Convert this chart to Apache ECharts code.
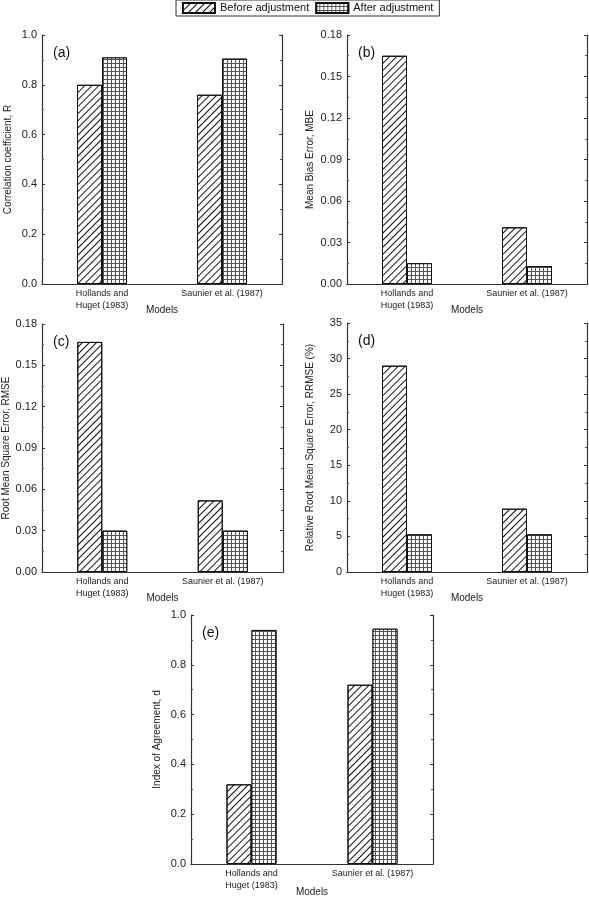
<!DOCTYPE html>
<html>
<head>
<meta charset="utf-8">
<script src="https://cdn.jsdelivr.net/npm/echarts@6/dist/echarts.min.js"></script>
<style>
html, body { margin: 0; padding: 0; background: #fff; }
#chart { width: 589px; height: 900px; }
</style>
</head>
<body>
<div id="chart"></div>
<script>
var models = ['Hollands and\nHuget (1983)', 'Saunier et al. (1987)'];
var seriesNames = ['Before adjustment', 'After adjustment'];

var corrBefore = [0.80, 0.76];
var corrAfter = [0.91, 0.905];
var mbeBefore = [0.165, 0.041];
var mbeAfter = [0.015, 0.013];
var rmseBefore = [0.167, 0.052];
var rmseAfter = [0.030, 0.030];
var rrmseBefore = [29.0, 8.9];
var rrmseAfter = [5.3, 5.3];
var dBefore = [0.32, 0.72];
var dAfter = [0.94, 0.945];

var panels = [
	{ tag: '(a)', yname: 'Correlation coefficient, R', max: 1, interval: 0.2, digits: 1, before: corrBefore, after: corrAfter, left: 42, top: 35, width: 240, height: 249, gap: 29 },
	{ tag: '(b)', yname: 'Mean Bias Error, MBE', max: 0.18, interval: 0.03, digits: 2, before: mbeBefore, after: mbeAfter, left: 347, top: 35, width: 240, height: 249, gap: 32 },
	{ tag: '(c)', yname: 'Root Mean Square Error, RMSE', max: 0.18, interval: 0.03, digits: 2, before: rmseBefore, after: rmseAfter, left: 42, top: 324, width: 241, height: 248, gap: 31 },
	{ tag: '(d)', yname: 'Relative Root Mean Square Error, RRMSE (%)', max: 35, interval: 5, digits: 0, before: rrmseBefore, after: rrmseAfter, left: 347, top: 323, width: 240, height: 249, gap: 32 },
	{ tag: '(e)', yname: 'Index of Agreement, d', max: 1, interval: 0.2, digits: 1, before: dBefore, after: dAfter, left: 191, top: 615, width: 242, height: 249, gap: 29 }
];

var font = 'Liberation Sans, Arial, sans-serif';

var hatch = {
	symbol: 'rect',
	symbolSize: 1,
	color: '#111',
	dashArrayX: [1, 0],
	dashArrayY: [1, 3.5],
	rotation: -Math.PI / 4
};
var crossHatch = {
	symbol: 'rect',
	symbolSize: 1,
	color: '#fff',
	dashArrayX: [2.5, 1],
	dashArrayY: [2.5, 1]
};

var option = {
	backgroundColor: '#fff',
	animation: false,
	textStyle: { fontFamily: font, color: '#222' },
	legend: {
		data: seriesNames,
		left: 176,
		top: 0,
		icon: 'rect',
		padding: [2, 6, 2, 6],
		itemGap: 6,
		itemWidth: 32,
		itemHeight: 10,
		borderColor: '#333',
		borderWidth: 1,
		borderRadius: 0,
		textStyle: { fontSize: 11, color: '#111', fontFamily: font }
	},
	title: [],
	grid: [],
	xAxis: [],
	yAxis: [],
	series: []
};

var n = panels.length;
for (var i = 0; i < n; i++) {
	var p = panels[i];
	option.grid.push({ left: p.left, top: p.top, width: p.width, height: p.height, containLabel: false });
	option.title.push({
		text: p.tag,
		left: p.left + 6,
		top: p.top + 6,
		textStyle: { fontSize: 14, fontWeight: 'normal', color: '#111', fontFamily: font }
	});
}
// bottom x axes
for (var i = 0; i < n; i++) {
	option.xAxis.push({
		type: 'category',
		gridIndex: i,
		data: models,
		name: 'Models',
		nameLocation: 'middle',
		nameGap: i === 4 ? 23 : 21,
		nameMoveOverlap: false,
		nameTextStyle: { fontSize: 10, color: '#222' },
		axisLine: { lineStyle: { color: '#333', width: 1.2 } },
		axisTick: { inside: true, length: 3, lineStyle: { color: '#333' } },
		axisLabel: { fontSize: 9, lineHeight: 12, color: '#222', margin: 4, interval: 0 }
	});
}
// top x axes (ticks only)
for (var i = 0; i < n; i++) {
	option.xAxis.push({
		type: 'category',
		gridIndex: i,
		position: 'top',
		data: models,
		axisLine: { lineStyle: { color: '#333', width: 1.2 } },
		axisTick: { inside: true, length: 3, lineStyle: { color: '#333' } },
		axisLabel: { show: false }
	});
}
// left y axes
for (var i = 0; i < n; i++) {
	var p = panels[i];
	option.yAxis.push({
		type: 'value',
		gridIndex: i,
		min: 0,
		max: p.max,
		interval: p.interval,
		name: p.yname,
		nameLocation: 'middle',
		nameGap: p.gap,
		nameMoveOverlap: false,
		nameTextStyle: { fontSize: 10, color: '#222' },
		axisLine: { show: true, lineStyle: { color: '#333', width: 1.2 } },
		axisTick: { show: true, inside: true, length: 3, lineStyle: { color: '#333' } },
		minorTick: { show: true, splitNumber: 2, length: 2, lineStyle: { color: '#555' } },
		splitLine: { show: false },
		axisLabel: {
			fontSize: 11, color: '#222', margin: 5,
			formatter: (function (d) { return function (v) { return v.toFixed(d); }; })(p.digits)
		}
	});
}
// right y axes (ticks only)
for (var i = 0; i < n; i++) {
	var p = panels[i];
	option.yAxis.push({
		type: 'value',
		gridIndex: i,
		position: 'right',
		min: 0,
		max: p.max,
		interval: p.interval,
		axisLine: { show: true, lineStyle: { color: '#333', width: 1.2 } },
		axisTick: { show: true, inside: true, length: 3, lineStyle: { color: '#333' } },
		minorTick: { show: true, splitNumber: 2, length: 2, lineStyle: { color: '#555' } },
		splitLine: { show: false },
		axisLabel: { show: false }
	});
}
for (var i = 0; i < n; i++) {
	var p = panels[i];
	option.series.push({
		name: seriesNames[0],
		type: 'bar',
		xAxisIndex: i,
		yAxisIndex: i,
		data: p.before,
		barWidth: 25,
		barGap: '0%',
		itemStyle: { color: '#fff', borderColor: '#111', borderWidth: 1, decal: hatch }
	});
	option.series.push({
		name: seriesNames[1],
		type: 'bar',
		xAxisIndex: i,
		yAxisIndex: i,
		data: p.after,
		barWidth: 25,
		barGap: '0%',
		itemStyle: { color: '#555', borderColor: '#111', borderWidth: 1, decal: crossHatch }
	});
}

var chart = echarts.init(document.getElementById('chart'));
chart.setOption(option);
</script>
</body>
</html>
